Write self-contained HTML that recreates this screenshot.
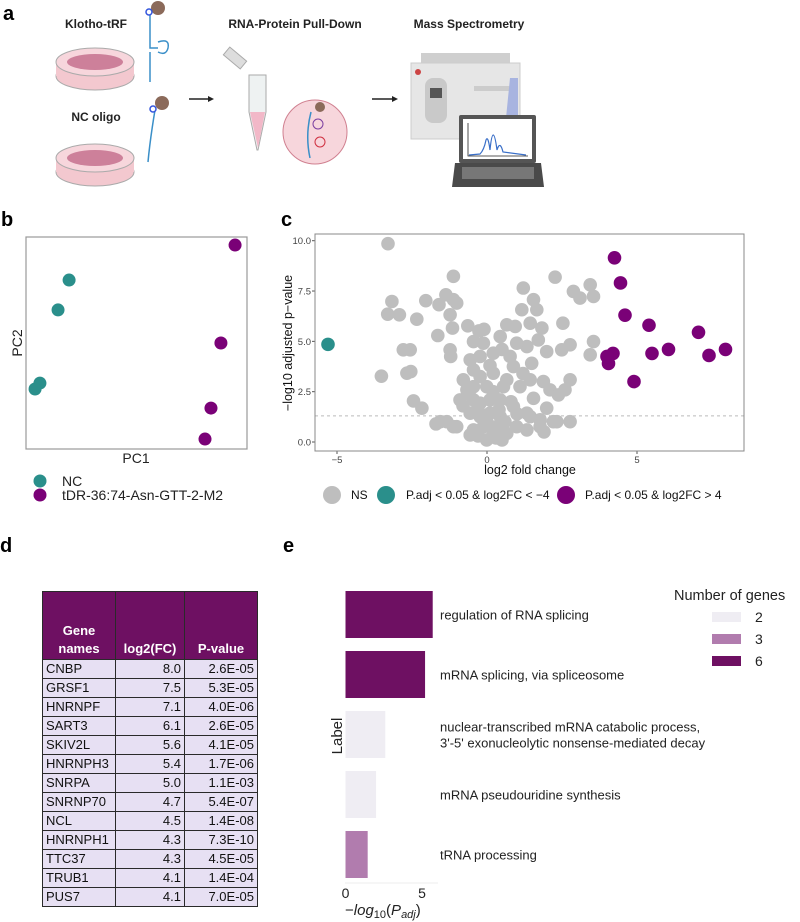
<!DOCTYPE html>
<html><head><meta charset="utf-8">
<style>
body{margin:0;background:#fff;width:800px;height:922px;overflow:hidden;position:relative;font-family:"Liberation Sans",sans-serif}
svg{position:absolute;left:0;top:0}
.tbl{position:absolute;left:42px;top:591px;border-collapse:collapse;font-family:"Liberation Sans",sans-serif;font-size:13px}
.tbl td,.tbl th{border:1.5px solid #2a2a2a;padding:0 3px;height:18px;line-height:18px}
.tbl th{background:#6e1062;color:#fff;font-weight:bold;height:66px;vertical-align:bottom;text-align:center;line-height:18px;padding-bottom:1px}
.tbl td{background:#e7e0f3;color:#111}
.tbl td.n{text-align:right}
</style></head><body>
<svg id="fig" width="800" height="922" viewBox="0 0 800 922" font-family="Liberation Sans, sans-serif">
 <g>
  <text x="3" y="20" font-size="20" font-weight="bold">a</text>
  <text x="96" y="28" font-size="12" font-weight="bold" text-anchor="middle" fill="#222">Klotho-tRF</text>
  <text x="295" y="28" font-size="12" font-weight="bold" text-anchor="middle" fill="#222">RNA-Protein Pull-Down</text>
  <text x="469" y="28" font-size="12" font-weight="bold" text-anchor="middle" fill="#222">Mass Spectrometry</text>
  <text x="96" y="121" font-size="12" font-weight="bold" text-anchor="middle" fill="#222">NC oligo</text>
  <g>
   <ellipse cx="95" cy="76" rx="39" ry="14" fill="#f3c8cf" stroke="#aaa"/>
   <rect x="56" y="62" width="78" height="14" fill="#f3c8cf"/>
   <ellipse cx="95" cy="62" rx="39" ry="14" fill="#f7d6dc" stroke="#aaa"/>
   <ellipse cx="95" cy="62" rx="28" ry="8" fill="#b0466e" opacity="0.6"/>
  </g>
  <g>
   <ellipse cx="95" cy="172" rx="39" ry="14" fill="#f3c8cf" stroke="#aaa"/>
   <rect x="56" y="158" width="78" height="14" fill="#f3c8cf"/>
   <ellipse cx="95" cy="158" rx="39" ry="14" fill="#f7d6dc" stroke="#aaa"/>
   <ellipse cx="95" cy="158" rx="28" ry="8" fill="#b0466e" opacity="0.6"/>
  </g>
  <g fill="none" stroke="#3a8fc8" stroke-width="1.5">
   <path d="M150 12 L150 48 L158 48 M158 42 Q170 38 168 48 Q166 56 158 52 M150 52 L150 82"/>
   <circle cx="158" cy="8" r="7" fill="#8b6a5a" stroke="none"/>
   <circle cx="149" cy="12" r="3" fill="#fff" stroke="#3355dd"/>
  </g>
  <g fill="none" stroke="#3a8fc8" stroke-width="1.5">
   <path d="M155 110 Q150 140 148 162"/>
   <circle cx="162" cy="103" r="7" fill="#8b6a5a" stroke="none"/>
   <circle cx="153" cy="109" r="3" fill="#fff" stroke="#3355dd"/>
  </g>
  <path d="M189 99 L212 99" stroke="#222" stroke-width="1.5"/>
  <path d="M214 99 L208 96 L208 102 Z" fill="#222"/>
  <g>
   <path d="M249 75 L266 75 L266 112 L258 150 L257 150 L249 112 Z" fill="#eef2f2" stroke="#aaa"/>
   <path d="M250 112 L265 112 L258 148 Z" fill="#f2b8c8"/>
   <rect x="224" y="53" width="22" height="10" fill="#ddd" stroke="#aaa" transform="rotate(40 235 58)"/>
  </g>
  <circle cx="315" cy="132" r="32" fill="#f7d6dc" stroke="#d08090"/>
  <circle cx="320" cy="107" r="5" fill="#8b6a5a"/>
  <path d="M311 112 Q305 135 310 158" stroke="#3a8fc8" stroke-width="1.5" fill="none"/>
  <circle cx="318" cy="124" r="5" fill="none" stroke="#7b3fa0"/>
  <circle cx="320" cy="142" r="5" fill="none" stroke="#d03040"/>
  <path d="M372 99 L395 99" stroke="#222" stroke-width="1.5"/>
  <path d="M398 99 L392 96 L392 102 Z" fill="#222"/>
  <g>
   <rect x="421" y="53" width="89" height="11" fill="#cfcfcf"/>
   <rect x="411" y="63" width="109" height="76" fill="#e6e6e6" stroke="#ccc"/>
   <rect x="425" y="78" width="22" height="45" rx="8" fill="#c9c9c9"/>
   <rect x="430" y="88" width="12" height="10" fill="#555"/>
   <circle cx="418" cy="72" r="3" fill="#cc4444"/>
   <rect x="474" y="86" width="39" height="5" fill="#ccc"/>
   <path d="M510 78 L518 78 L518 118 L506 118 Z" fill="#a8b4e0"/>
  </g>
  <g>
   <rect x="459" y="115" width="77" height="48" rx="2" fill="#555"/>
   <rect x="463" y="119" width="69" height="40" fill="#fff"/>
   <path d="M469 155 L480 154 Q484 150 486 140 Q488 135 490 150 Q493 120 497 150 Q500 140 503 152 L526 155" stroke="#3a6fc8" fill="none" stroke-width="1.2"/>
   <path d="M468 123 L468 156 L528 156" stroke="#222" fill="none" stroke-width="0.8"/>
   <path d="M455 163 L541 163 L544 187 L452 187 Z" fill="#4a4a4a"/>
   <rect x="462" y="167" width="72" height="12" fill="#777"/>
  </g>
 </g>

 <!-- panel b -->
 <text x="1" y="226" font-size="20" font-weight="bold">b</text>
 <rect x="26" y="237" width="221" height="212" fill="none" stroke="#999" stroke-width="1.2"/>
 <g id="pcaPts"></g>
 <text x="136" y="463" font-size="14" text-anchor="middle" fill="#222">PC1</text>
 <text transform="translate(22 343) rotate(-90)" font-size="14" text-anchor="middle" fill="#222">PC2</text>
 <g>
  <circle cx="40" cy="481" r="6.5" fill="#2a8f8b"/>
  <text x="62" y="486" font-size="14" fill="#222">NC</text>
  <circle cx="40" cy="495" r="6.5" fill="#7a0177"/>
  <text x="62" y="500" font-size="14" fill="#222">tDR-36:74-Asn-GTT-2-M2</text>
 </g>

 <!-- panel c -->
 <text x="281" y="226" font-size="20" font-weight="bold">c</text>
 <g id="volc"></g>
 <rect x="315" y="234" width="429" height="217" fill="none" stroke="#888" stroke-width="1"/>
 <text x="530" y="474" font-size="12.5" text-anchor="middle" fill="#111">log2 fold change</text>
 <text transform="translate(292 343) rotate(-90)" font-size="12.5" text-anchor="middle" fill="#111">−log10 adjusted p−value</text>
 <g font-size="12" fill="#111">
  <circle cx="332" cy="495" r="9" fill="#bebebe"/>
  <text x="351" y="499">NS</text>
  <circle cx="386" cy="495" r="9" fill="#2a8f8b"/>
  <text x="406" y="499">P.adj &lt; 0.05 &amp; log2FC &lt; −4</text>
  <circle cx="566" cy="495" r="9" fill="#7a0177"/>
  <text x="585" y="499">P.adj &lt; 0.05 &amp; log2FC &gt; 4</text>
 </g>

 <!-- panel d/e labels -->
 <text x="0" y="552" font-size="20" font-weight="bold">d</text>
 <text x="283" y="552" font-size="20" font-weight="bold">e</text>

 <!-- panel e -->
 <g id="bars"></g>
 <text x="674" y="600" font-size="14.5" fill="#222">Number of genes</text>
 <g id="barLegend"></g>
 <text transform="translate(342 736) rotate(-90)" font-size="15" text-anchor="middle" fill="#222">Label</text>
 <text x="345" y="915" font-size="15" fill="#222">−<tspan font-style="italic">log</tspan><tspan font-size="11" dy="3">10</tspan><tspan dy="-3">(</tspan><tspan font-style="italic">P</tspan><tspan font-style="italic" font-size="11" dy="3">adj</tspan><tspan dy="-3">)</tspan></text>
</svg>

<table class="tbl">
 <tr><th style="width:66px">Gene<br>names</th><th style="width:62px">log2(FC)</th><th style="width:66px">P-value</th></tr>
 <tr><td>CNBP</td><td class="n">8.0</td><td class="n">2.6E-05</td></tr>
 <tr><td>GRSF1</td><td class="n">7.5</td><td class="n">5.3E-05</td></tr>
 <tr><td>HNRNPF</td><td class="n">7.1</td><td class="n">4.0E-06</td></tr>
 <tr><td>SART3</td><td class="n">6.1</td><td class="n">2.6E-05</td></tr>
 <tr><td>SKIV2L</td><td class="n">5.6</td><td class="n">4.1E-05</td></tr>
 <tr><td>HNRNPH3</td><td class="n">5.4</td><td class="n">1.7E-06</td></tr>
 <tr><td>SNRPA</td><td class="n">5.0</td><td class="n">1.1E-03</td></tr>
 <tr><td>SNRNP70</td><td class="n">4.7</td><td class="n">5.4E-07</td></tr>
 <tr><td>NCL</td><td class="n">4.5</td><td class="n">1.4E-08</td></tr>
 <tr><td>HNRNPH1</td><td class="n">4.3</td><td class="n">7.3E-10</td></tr>
 <tr><td>TTC37</td><td class="n">4.3</td><td class="n">4.5E-05</td></tr>
 <tr><td>TRUB1</td><td class="n">4.1</td><td class="n">1.4E-04</td></tr>
 <tr><td>PUS7</td><td class="n">4.1</td><td class="n">7.0E-05</td></tr>
</table>

<script>
const NS="http://www.w3.org/2000/svg";
// ---- PCA data ----
const pcaGroups=["NC","NC","NC","NC","tDR","tDR","tDR","tDR"];
const pc1Values=[19.5,14.5,6.3,4.1,94.6,88.2,83.7,81.0];
const pc2Values=[79.7,65.6,31.1,28.3,96.2,50.0,19.3,4.7];
// ---- volcano data ----
const nsLog2FC=[-3.3,-3.17,-3.31,-2.92,-3.52,-2.79,-2.56,-2.67,-2.54,-2.45,-2.17,-2.34,-2.04,-1.6,-1.37,-1.12,-1.01,-1.12,-1.23,-1.15,-1.64,-1.23,-1.21,-0.64,-0.27,-0.45,-0.56,-0.23,-0.67,-0.45,-0.56,-0.23,0.1,0.21,-0.01,0.66,0.44,0.66,0.77,0.44,0.66,0.94,1.21,1.16,1.55,1.66,1.44,1.83,1.71,1.33,1.99,1.49,1.44,1.88,2.1,1.55,1.33,1.99,2.27,2.53,2.49,2.77,2.88,3.1,3.44,3.55,3.55,3.44,2.77,2.6,2.38,2.77,2.21,1.77,0.99,-1.56,-1.34,-1.01,-0.56,-0.12,0.44,-0.01,0.21,-0.23,-0.45,-0.79,0.88,1.1,-0.9,-0.45,0.1,0.55,0.88,0.21,-0.12,0.99,1.44,2.33,1.77,-1.12,-0.45,1.33,0.33,-0.23,0.3,-0.3,0.6,-0.8,0.1,0.5,-0.1,0.2,0.8,-0.6,1.2,-0.3,0.4,1.0,0.0,0.5,1.9,-1.7];
const nsNegLogP=[9.85,6.98,6.35,6.32,3.27,4.58,4.58,3.42,3.5,2.04,1.68,6.1,7.02,6.82,7.31,7.07,6.9,8.23,6.32,5.66,5.29,4.58,4.25,5.77,5.52,4.99,4.08,4.25,2.59,2.09,1.43,1.26,1.43,0.43,0.1,0.43,2.09,3.09,4.25,5.24,5.82,5.74,7.65,6.57,7.07,6.57,5.9,5.66,5.07,4.74,4.49,3.91,3.09,3.0,2.59,2.17,1.43,1.68,8.19,5.9,4.58,4.83,7.48,7.15,7.81,7.23,4.99,4.33,3.09,2.59,2.34,1.01,1.01,0.76,0.76,1.01,1.01,0.76,0.35,0.76,1.26,2.75,3.42,3.25,3.58,3.09,1.76,2.75,2.09,2.75,2.09,2.75,3.75,4.41,4.91,4.91,1.26,1.01,1.1,0.76,0.6,0.6,0.76,1.93,0.2,0.3,1.0,1.8,3.8,4.6,5.6,2.5,2.0,2.4,3.4,1.6,1.6,1.4,1.0,0.1,0.5,0.9];
const downLog2FC=[-5.3];
const downNegLogP=[4.85];
const upLog2FC=[4.25,4.45,4.6,5.4,7.05,5.5,6.05,7.4,7.95,4.2,4.05,4.0,4.9];
const upNegLogP=[9.15,7.9,6.3,5.8,5.45,4.4,4.6,4.3,4.6,4.4,3.9,4.25,3.0];
const xTicks=[-5,0,5];
const xTickLabels=["−5","0","5"];
const yTicks=[0,2.5,5,7.5,10];
const yTickLabels=["0.0","2.5","5.0","7.5","10.0"];
const threshold=1.3;
// ---- GO enrichment data ----
const goTerms=["regulation of RNA splicing","mRNA splicing, via spliceosome","nuclear-transcribed mRNA catabolic process,|3'-5' exonucleolytic nonsense-mediated decay","mRNA pseudouridine synthesis","tRNA processing"];
const goNegLogPadj=[5.7,5.2,2.6,2.0,1.45];
const goGeneCounts=[6,6,2,2,3];
const legendCounts=[2,3,6];
const eTicks=[0,5];

const colorOf={2:"#efedf3",3:"#b17cae",6:"#6e1062"};

// PCA scales
const pcX=v=>26+v*2.21, pcY=v=>449-v*2.12;
const pg=document.getElementById('pcaPts');
for(let i=0;i<pc1Values.length;i++){
 const c=document.createElementNS(NS,'circle');
 c.setAttribute('cx',pcX(pc1Values[i]));c.setAttribute('cy',pcY(pc2Values[i]));c.setAttribute('r',6.5);
 c.setAttribute('fill',pcaGroups[i]==="NC"?"#2a8f8b":"#7a0177");
 
 
 pg.appendChild(c);
}

// volcano scales
const vx=v=>487+v*30, vy=v=>442-v*20.13;
const vg=document.getElementById('volc');
const dl=document.createElementNS(NS,'line');
dl.setAttribute('x1',315);dl.setAttribute('x2',744);dl.setAttribute('y1',vy(threshold));dl.setAttribute('y2',vy(threshold));
dl.setAttribute('stroke','#bbb');dl.setAttribute('stroke-dasharray','3 3');


vg.appendChild(dl);
function pts(xs,ys,col,name){
 for(let i=0;i<xs.length;i++){
  const c=document.createElementNS(NS,'circle');
  c.setAttribute('cx',vx(xs[i]));c.setAttribute('cy',vy(ys[i]));c.setAttribute('r',6.8);c.setAttribute('fill',col);
  
  
  vg.appendChild(c);
 }
}
pts(nsLog2FC,nsNegLogP,"#bebebe","ns-point");
pts(downLog2FC,downNegLogP,"#2a8f8b","down-point");
pts(upLog2FC,upNegLogP,"#7a0177","up-point");
xTicks.forEach((t,i)=>{
 const l=document.createElementNS(NS,'line');
 l.setAttribute('x1',vx(t));l.setAttribute('x2',vx(t));l.setAttribute('y1',451);l.setAttribute('y2',454);l.setAttribute('stroke','#555');
 
 
 vg.appendChild(l);
 const tx=document.createElementNS(NS,'text');
 tx.setAttribute('x',vx(t));tx.setAttribute('y',463);tx.setAttribute('font-size',9.5);tx.setAttribute('text-anchor','middle');tx.setAttribute('fill','#444');
 tx.textContent=xTickLabels[i];
 
 
 vg.appendChild(tx);
});
yTicks.forEach((t,i)=>{
 const l=document.createElementNS(NS,'line');
 l.setAttribute('x1',312);l.setAttribute('x2',315);l.setAttribute('y1',vy(t));l.setAttribute('y2',vy(t));l.setAttribute('stroke','#555');
 
 
 vg.appendChild(l);
 const tx=document.createElementNS(NS,'text');
 tx.setAttribute('x',311);tx.setAttribute('y',vy(t)+3.5);tx.setAttribute('font-size',9.5);tx.setAttribute('text-anchor','end');tx.setAttribute('fill','#444');
 tx.textContent=yTickLabels[i];
 
 
 vg.appendChild(tx);
});

// GO bars
const ex=v=>345.5+v*15.3;
const bg=document.getElementById('bars');
goTerms.forEach((term,i)=>{
 const top=591+i*60;
 const r=document.createElementNS(NS,'rect');
 r.setAttribute('x',ex(0));r.setAttribute('y',top);r.setAttribute('width',ex(goNegLogPadj[i])-ex(0));r.setAttribute('height',47);
 r.setAttribute('fill',colorOf[goGeneCounts[i]]);
 
 
 bg.appendChild(r);
 const lines=term.split('|');
 lines.forEach((ln,j)=>{
  const tx=document.createElementNS(NS,'text');
  tx.setAttribute('x',440);tx.setAttribute('y',top+23.5+5-(lines.length-1)*8+j*16);
  tx.setAttribute('font-size',13);tx.setAttribute('fill','#222');
  tx.textContent=ln;
  
  
  bg.appendChild(tx);
 });
});
const ax=document.createElementNS(NS,'line');
ax.setAttribute('x1',345);ax.setAttribute('x2',438);ax.setAttribute('y1',883);ax.setAttribute('y2',883);ax.setAttribute('stroke','#eee');


bg.appendChild(ax);
eTicks.forEach(t=>{
 const tx=document.createElementNS(NS,'text');
 tx.setAttribute('x',ex(t));tx.setAttribute('y',898);tx.setAttribute('font-size',14);tx.setAttribute('text-anchor','middle');tx.setAttribute('fill','#222');
 tx.textContent=String(t);
 
 
 bg.appendChild(tx);
});
const lg=document.getElementById('barLegend');
legendCounts.forEach((n,i)=>{
 const y=612+i*22;
 const r=document.createElementNS(NS,'rect');
 r.setAttribute('x',712);r.setAttribute('y',y);r.setAttribute('width',29);r.setAttribute('height',10);r.setAttribute('fill',colorOf[n]);
 
 
 lg.appendChild(r);
 const tx=document.createElementNS(NS,'text');
 tx.setAttribute('x',755);tx.setAttribute('y',y+10);tx.setAttribute('font-size',14);tx.setAttribute('fill','#222');
 tx.textContent=String(n);
 
 
 lg.appendChild(tx);
});
</script>
</body></html>
